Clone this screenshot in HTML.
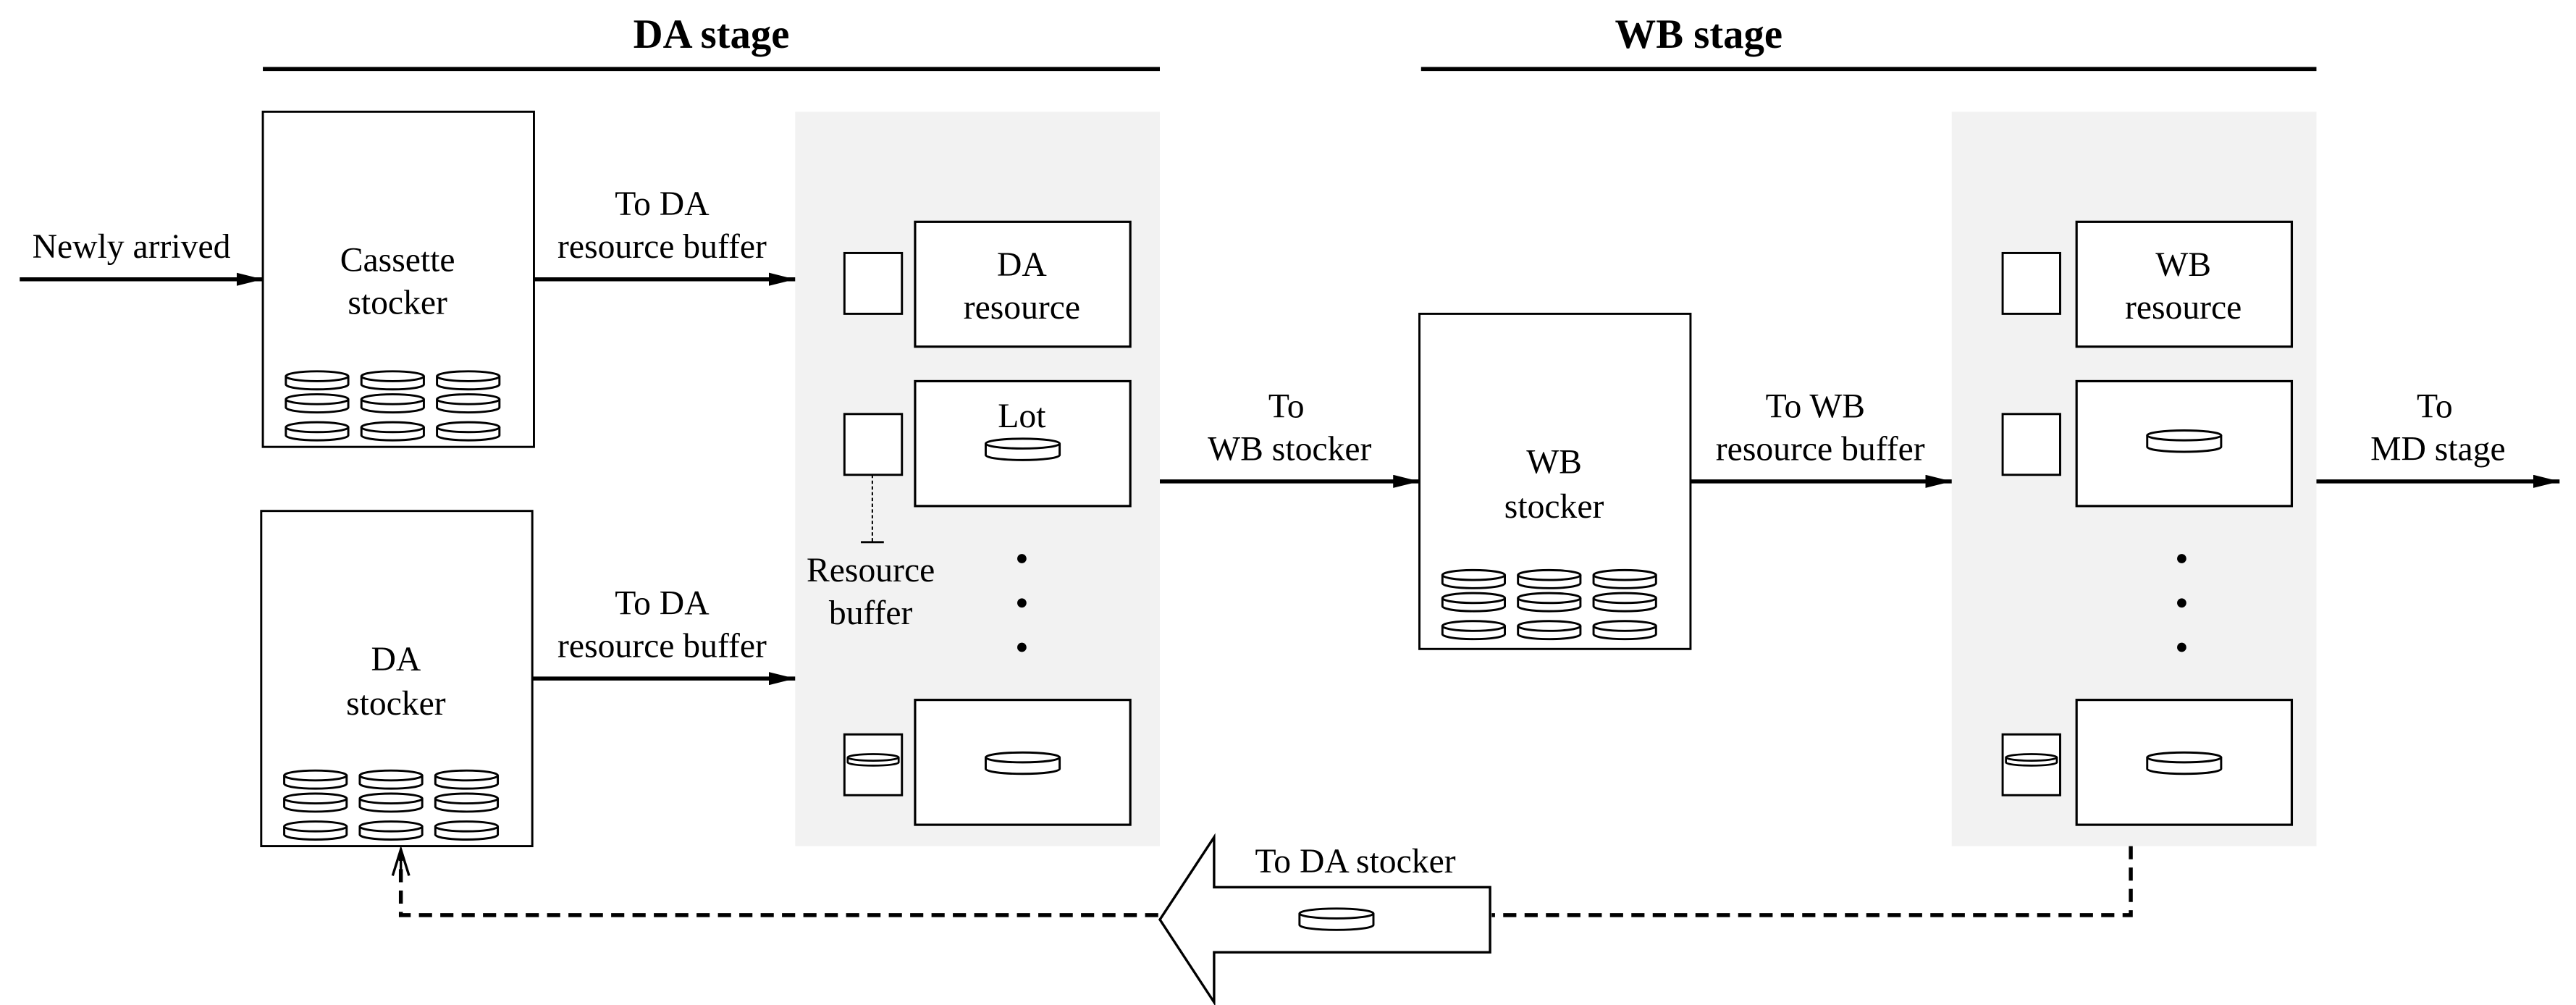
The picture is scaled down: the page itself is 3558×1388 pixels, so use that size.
<!DOCTYPE html>
<html><head><meta charset="utf-8"><style>html,body{margin:0;padding:0;background:#fff}svg{display:block}text{font-family:'Liberation Serif','Times New Roman','DejaVu Serif',serif !important}</style></head>
<body>
<svg width="3558" height="1388" viewBox="0 0 1568 611.7" preserveAspectRatio="none" xmlns="http://www.w3.org/2000/svg" font-family="'Liberation Serif', 'DejaVu Serif', serif">
<defs>
<marker id="ah" markerWidth="16" markerHeight="8" refX="16" refY="4" orient="auto" markerUnits="userSpaceOnUse"><path d="M0,0 L16,4 L0,8 Z" fill="#000"/></marker>
<g id="drum"><path d="M0,3 A19,3 0 0 1 38,3 L38,8 A19,3 0 0 1 0,8 Z" fill="#fff" stroke="#000" stroke-width="1.3"/><path d="M0,3 A19,3 0 0 0 38,3" fill="none" stroke="#000" stroke-width="1.3"/></g>
<g id="drum9">
<use href="#drum" x="0" y="0"/><use href="#drum" x="46" y="0"/><use href="#drum" x="92" y="0"/>
<use href="#drum" x="0" y="14"/><use href="#drum" x="46" y="14"/><use href="#drum" x="92" y="14"/>
<use href="#drum" x="0" y="31"/><use href="#drum" x="46" y="31"/><use href="#drum" x="92" y="31"/>
</g>
<g id="lot"><path d="M0,3 A22.5,3 0 0 1 45,3 L45,10 A22.5,3 0 0 1 0,10 Z" fill="#fff" stroke="#000" stroke-width="1.3"/><path d="M0,3 A22.5,3 0 0 0 45,3" fill="none" stroke="#000" stroke-width="1.3"/></g>
<g id="lotS"><path d="M0,2 A15.5,2 0 0 1 31,2 L31,5 A15.5,2 0 0 1 0,5 Z" fill="#fff" stroke="#000" stroke-width="1.2"/><path d="M0,2 A15.5,2 0 0 0 31,2" fill="none" stroke="#000" stroke-width="1.2"/></g>
</defs>

<text x="433" y="29" font-size="25" font-weight="bold" text-anchor="middle">DA stage</text>
<line x1="160" y1="42" x2="706" y2="42" stroke="#000" stroke-width="2.5"/>
<text x="1034" y="29" font-size="25" font-weight="bold" text-anchor="middle">WB stage</text>
<line x1="865" y1="42" x2="1410" y2="42" stroke="#000" stroke-width="2.5"/>

<rect x="484" y="68" width="222" height="447" fill="#f2f2f2"/>
<rect x="1188" y="68" width="222" height="447" fill="#f2f2f2"/>

<g font-size="21" text-anchor="middle">
<rect x="160" y="68" width="165" height="204" fill="#fff" stroke="#000" stroke-width="1.3"/>
<text x="242" y="165">Cassette</text><text x="242" y="191">stocker</text>
<use href="#drum9" x="174" y="226"/>
<rect x="159" y="311" width="165" height="204" fill="#fff" stroke="#000" stroke-width="1.3"/>
<text x="241" y="408">DA</text><text x="241" y="435">stocker</text>
<use href="#drum9" x="173" y="469"/>
<rect x="864" y="191" width="165" height="204" fill="#fff" stroke="#000" stroke-width="1.3"/>
<text x="946" y="288">WB</text><text x="946" y="315">stocker</text>
<use href="#drum9" x="878" y="347"/>

<rect x="514" y="154" width="35" height="37" fill="#fff" stroke="#000" stroke-width="1.3"/>
<rect x="557" y="135" width="131" height="76" fill="#fff" stroke="#000" stroke-width="1.4"/>
<text x="622" y="168">DA</text><text x="622" y="194">resource</text>
<rect x="514" y="252" width="35" height="37" fill="#fff" stroke="#000" stroke-width="1.3"/>
<rect x="557" y="232" width="131" height="76" fill="#fff" stroke="#000" stroke-width="1.4"/>
<text x="622" y="260">Lot</text>
<use href="#lot" x="600" y="267"/>
<line x1="531" y1="289" x2="531" y2="330" stroke="#000" stroke-width="0.9" stroke-dasharray="2,1.5"/>
<line x1="524" y1="330" x2="538" y2="330" stroke="#000" stroke-width="1.3"/>
<text x="530" y="354">Resource</text><text x="530" y="380">buffer</text>
<circle cx="622" cy="340" r="2.8"/><circle cx="622" cy="367" r="2.8"/><circle cx="622" cy="394" r="2.8"/>
<rect x="514" y="447" width="35" height="37" fill="#fff" stroke="#000" stroke-width="1.3"/>
<use href="#lotS" x="516" y="459"/>
<rect x="557" y="426" width="131" height="76" fill="#fff" stroke="#000" stroke-width="1.4"/>
<use href="#lot" x="600" y="458"/>

<rect x="1219" y="154" width="35" height="37" fill="#fff" stroke="#000" stroke-width="1.3"/>
<rect x="1264" y="135" width="131" height="76" fill="#fff" stroke="#000" stroke-width="1.4"/>
<text x="1329" y="168">WB</text><text x="1329" y="194">resource</text>
<rect x="1219" y="252" width="35" height="37" fill="#fff" stroke="#000" stroke-width="1.3"/>
<rect x="1264" y="232" width="131" height="76" fill="#fff" stroke="#000" stroke-width="1.4"/>
<use href="#lot" x="1307" y="262"/>
<circle cx="1328" cy="340" r="2.8"/><circle cx="1328" cy="367" r="2.8"/><circle cx="1328" cy="394" r="2.8"/>
<rect x="1219" y="447" width="35" height="37" fill="#fff" stroke="#000" stroke-width="1.3"/>
<use href="#lotS" x="1221" y="459"/>
<rect x="1264" y="426" width="131" height="76" fill="#fff" stroke="#000" stroke-width="1.4"/>
<use href="#lot" x="1307" y="458"/>

<line x1="12" y1="170" x2="160" y2="170" stroke="#000" stroke-width="2.4" marker-end="url(#ah)"/>
<text x="80" y="157">Newly arrived</text>
<line x1="325" y1="170" x2="484" y2="170" stroke="#000" stroke-width="2.4" marker-end="url(#ah)"/>
<text x="403" y="131">To DA</text><text x="403" y="157">resource buffer</text>
<line x1="324" y1="413" x2="484" y2="413" stroke="#000" stroke-width="2.4" marker-end="url(#ah)"/>
<text x="403" y="374">To DA</text><text x="403" y="400">resource buffer</text>
<line x1="706" y1="293" x2="864" y2="293" stroke="#000" stroke-width="2.4" marker-end="url(#ah)"/>
<text x="783" y="254">To</text><text x="785" y="280">WB stocker</text>
<line x1="1029" y1="293" x2="1188" y2="293" stroke="#000" stroke-width="2.4" marker-end="url(#ah)"/>
<text x="1105" y="254">To WB</text><text x="1108" y="280">resource buffer</text>
<line x1="1410" y1="293" x2="1558" y2="293" stroke="#000" stroke-width="2.4" marker-end="url(#ah)"/>
<text x="1482" y="254">To</text><text x="1484" y="280">MD stage</text>

<path d="M1297,515 L1297,557 L908,557" fill="none" stroke="#000" stroke-width="2.4" stroke-dasharray="8,5"/>
<path d="M705,557 L244,557 L244,521" fill="none" stroke="#000" stroke-width="2.4" stroke-dasharray="8,5"/>
<path d="M239,533 L244,517 L249,533 M244,517 L244,535" fill="none" stroke="#000" stroke-width="1.5"/>
<path d="M706,559.7 L739,509.6 L739,540 L907,540 L907,579.6 L739,579.6 L739,610 Z" fill="#fff" stroke="#000" stroke-width="1.5"/>
<text x="825" y="531">To DA stocker</text>
<g transform="translate(791,553)"><path d="M0,3 A22.5,3 0 0 1 45,3 L45,10 A22.5,3 0 0 1 0,10 Z" fill="#fff" stroke="#000" stroke-width="1.3"/><path d="M0,3 A22.5,3 0 0 0 45,3" fill="none" stroke="#000" stroke-width="1.3"/></g>
</g>
</svg>
</body></html>
